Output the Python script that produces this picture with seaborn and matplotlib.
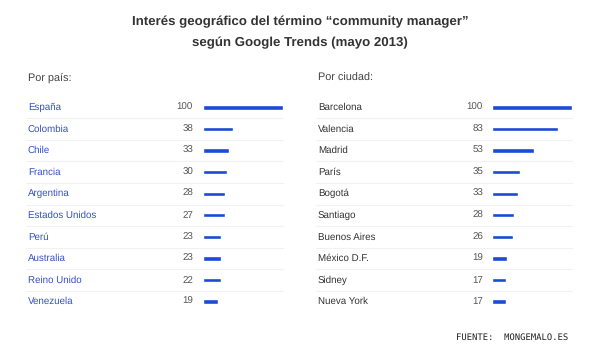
import numpy as np
import pandas as pd
import matplotlib
matplotlib.use("Agg")
import matplotlib.pyplot as plt
import matplotlib.transforms as mtransforms
import seaborn as sns

# data
paises = ["España", "Colombia", "Chile", "Francia", "Argentina",
          "Estados Unidos", "Perú", "Australia", "Reino Unido", "Venezuela"]
valores_pais = [100, 38, 33, 30, 28, 27, 23, 23, 22, 19]

ciudades = ["Barcelona", "Valencia", "Madrid", "París", "Bogotá",
            "Santiago", "Buenos Aires", "México D.F.", "Sidney", "Nueva York"]
valores_ciudad = [100, 83, 53, 35, 33, 28, 26, 19, 17, 17]

sns.set_theme(style="white")
plt.rcParams['font.family'] = ['Liberation Sans', 'DejaVu Sans']
plt.rcParams['text.hinting'] = 'no_hinting'

W, H = 600, 356
fig = plt.figure(figsize=(6, 3.56), dpi=100)
fig.patch.set_facecolor("white")

BAR = "#1a4ad6"
row0, row9 = 107.5, 301.5
step = (row9 - row0) / 9
top = row0 - step / 2
bot = row9 + step / 2


def panel(bar_x, names, vals, name_x, num_x, line_x0, line_x1, name_color):
    ax = fig.add_axes([bar_x / W, 1 - bot / H, 80 / W, (bot - top) / H])
    df = pd.DataFrame({"nombre": names, "valor": vals})
    sns.barplot(data=df, x="valor", y="nombre", orient="h", color=BAR,
                width=0.2, saturation=1, ax=ax)
    ax.set_xlim(0, 100)
    ax.set_ylim(len(names) - 0.5, -0.5)
    ax.axis("off")
    tr = mtransforms.blended_transform_factory(fig.transFigure, ax.transData)
    for i, (n, v) in enumerate(zip(names, vals)):
        ax.text(name_x / W, i, n, transform=tr, ha="left", va="center",
                fontsize=7, color=name_color)
        ax.text(num_x / W, i, str(v), transform=tr, ha="right", va="center",
                fontsize=7, color="#555555")
        if i < len(names) - 1:
            ax.plot([line_x0 / W, line_x1 / W], [i + 0.5, i + 0.5], transform=tr,
                    color="#f1f1f1", lw=0.75, clip_on=False)
    return ax


panel(203, paises, valores_pais, 28, 193, 26, 283, "#3450c8")
panel(492, ciudades, valores_ciudad, 318, 483, 316, 572, "#333333")

fig.text(0.5, 1 - 22 / H, "Interés geográfico del término “community manager”",
         ha="center", va="center", fontsize=9.5, fontweight="bold", color="#333333")
fig.text(0.5, 1 - 43 / H, "según Google Trends (mayo 2013)",
         ha="center", va="center", fontsize=9.5, fontweight="bold", color="#333333")
fig.text(28 / W, 1 - 78 / H, "Por país:", ha="left", va="center",
         fontsize=7.8, color="#444444")
fig.text(318 / W, 1 - 78 / H, "Por ciudad:", ha="left", va="center",
         fontsize=7.8, color="#444444")
fig.text(568 / W, 1 - 337 / H, "FUENTE:  MONGEMALO.ES", ha="right", va="center",
         fontsize=6.4, family="DejaVu Sans Mono", color="#222222")

fig.savefig("out.png", dpi=100, facecolor="white")
